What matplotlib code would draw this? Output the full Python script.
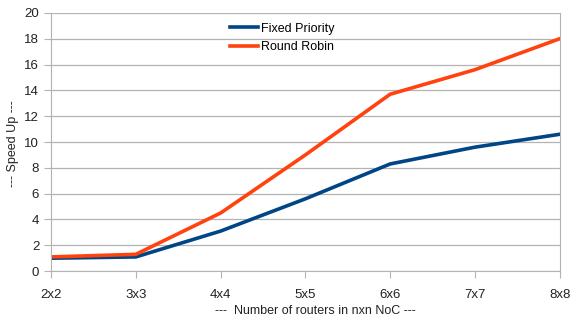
import matplotlib
matplotlib.use("Agg")
import matplotlib.pyplot as plt

# dados do gráfico
categorias = ["2x2", "3x3", "4x4", "5x5", "6x6", "7x7", "8x8"]
fixed_priority = [1.0, 1.1, 3.1, 5.6, 8.3, 9.6, 10.6]
round_robin = [1.1, 1.3, 4.5, 9.0, 13.7, 15.6, 18.0]

plt.rcParams['font.family'] = ['Liberation Sans', 'DejaVu Sans']

fig = plt.figure(figsize=(5.70, 3.22), dpi=100)
ax = fig.add_axes([0.0895, 0.158, 0.8925, 0.802])

x = range(len(categorias))
ax.plot(x, fixed_priority, color='#004586', linewidth=2.6, label='Fixed Priority')
ax.plot(x, round_robin, color='#ff420e', linewidth=2.6, label='Round Robin')

ax.set_xlim(0, len(categorias) - 1)
ax.set_ylim(0, 20)
ax.set_xticks(list(x))
ax.set_xticklabels(categorias)
ax.set_yticks(range(0, 21, 2))

ax.grid(axis='y', color='#b3b3b3', linewidth=0.9)
ax.set_axisbelow(True)
ax.spines['top'].set_visible(False)
for s in ['left', 'right', 'bottom']:
    ax.spines[s].set_color('#b3b3b3')
ax.tick_params(axis='both', colors='#b3b3b3', labelcolor='#222222', labelsize=9.5, length=5)
ax.tick_params(axis='x', pad=8)

# rótulos dos eixos posicionados na figura
fig.text(315 / 570, 1 - 311 / 322, "---  Number of routers in nxn NoC ---", fontsize=9,
         color='#222222', ha='center', va='center')
fig.text(13 / 570, 1 - 144 / 322, "--- Speed Up ---", fontsize=9, color='#222222',
         ha='center', va='center', rotation=90)

ax.legend(loc='upper left', bbox_to_anchor=(0.33, 1.005), frameon=False, fontsize=9,
          handlelength=2.2, handletextpad=0.3, labelspacing=0.5)

fig.savefig("out.png", dpi=100)
